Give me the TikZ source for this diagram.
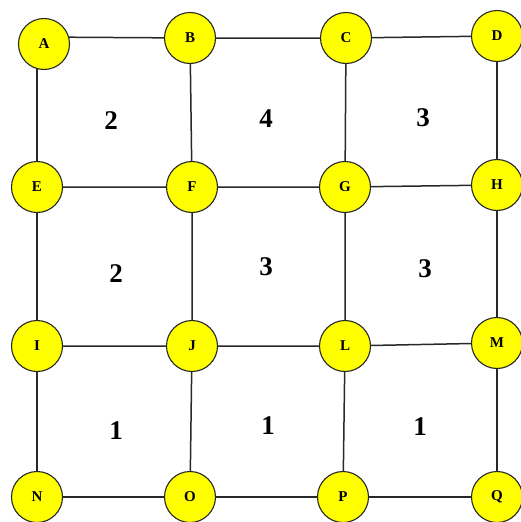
\documentclass[tikz,border=0pt]{standalone}
\usepackage{fontspec}
\setmainfont{Liberation Serif}
\usetikzlibrary{positioning}
\definecolor{vyellow}{RGB}{255,255,0}
\definecolor{edgegray}{RGB}{40,40,40}
\tikzset{
  vertex/.style={circle, draw=edgegray, line width=1.1pt, fill=vyellow, minimum size=51pt, inner sep=0pt, font=\fontsize{15}{15}\selectfont\bfseries},
  edge/.style={draw=edgegray, line width=1.5pt},
  weight/.style={font=\fontsize{27}{27}\selectfont\bfseries}
}

\begin{document}
\begin{tikzpicture}[x=1pt, y=-1pt]
  \useasboundingbox (0,0) rectangle (521,522);
  % grid points
  \coordinate (a) at (37,37);
  \coordinate (b) at (190,38);
  \coordinate (c) at (346,38);
  \coordinate (d) at (497,36);
  \coordinate (e) at (37,187);
  \coordinate (f) at (192,187);
  \coordinate (g) at (345,187);
  \coordinate (h) at (497,185);
  \coordinate (i) at (37,346);
  \coordinate (j) at (192,346);
  \coordinate (l) at (345,346);
  \coordinate (m) at (497,343);
  \coordinate (n) at (37,497);
  \coordinate (o) at (190,497);
  \coordinate (p) at (343,497);
  \coordinate (q) at (497,497);

  % edges
  \draw[edge] (a) -- (b) -- (c) -- (d);
  \draw[edge] (e) -- (f) -- (g) -- (h);
  \draw[edge] (i) -- (j) -- (l) -- (m);
  \draw[edge] (n) -- (o) -- (p) -- (q);
  \draw[edge] (a) -- (e) -- (i) -- (n);
  \draw[edge] (b) -- (f) -- (j) -- (o);
  \draw[edge] (c) -- (g) -- (l) -- (p);
  \draw[edge] (d) -- (h) -- (m) -- (q);

  % vertices
  \node[vertex] (A) at (44,44) {A};
  \node[vertex] (B) at (b) {B};
  \node[vertex] (C) at (c) {C};
  \node[vertex] (D) at (d) {D};
  \node[vertex] (E) at (e) {E};
  \node[vertex] (F) at (f) {F};
  \node[vertex] (G) at (g) {G};
  \node[vertex] (H) at (h) {H};
  \node[vertex] (I) at (i) {I};
  \node[vertex] (J) at (j) {J};
  \node[vertex] (L) at (l) {L};
  \node[vertex] (M) at (m) {M};
  \node[vertex] (N) at (n) {N};
  \node[vertex] (O) at (o) {O};
  \node[vertex] (P) at (p) {P};
  \node[vertex] (Q) at (q) {Q};

  % square weights
  \node[weight] (w1) at (111,121) {2};
  \node[weight] (w2) at (266,119) {4};
  \node[weight] (w3) at (423,118) {3};
  \node[weight] (w4) at (116,274) {2};
  \node[weight] (w5) at (266,267) {3};
  \node[weight] (w6) at (425,269) {3};
  \node[weight] (w7) at (116,431) {1};
  \node[weight] (w8) at (268,426) {1};
  \node[weight] (w9) at (420,427) {1};
\end{tikzpicture}
\end{document}
